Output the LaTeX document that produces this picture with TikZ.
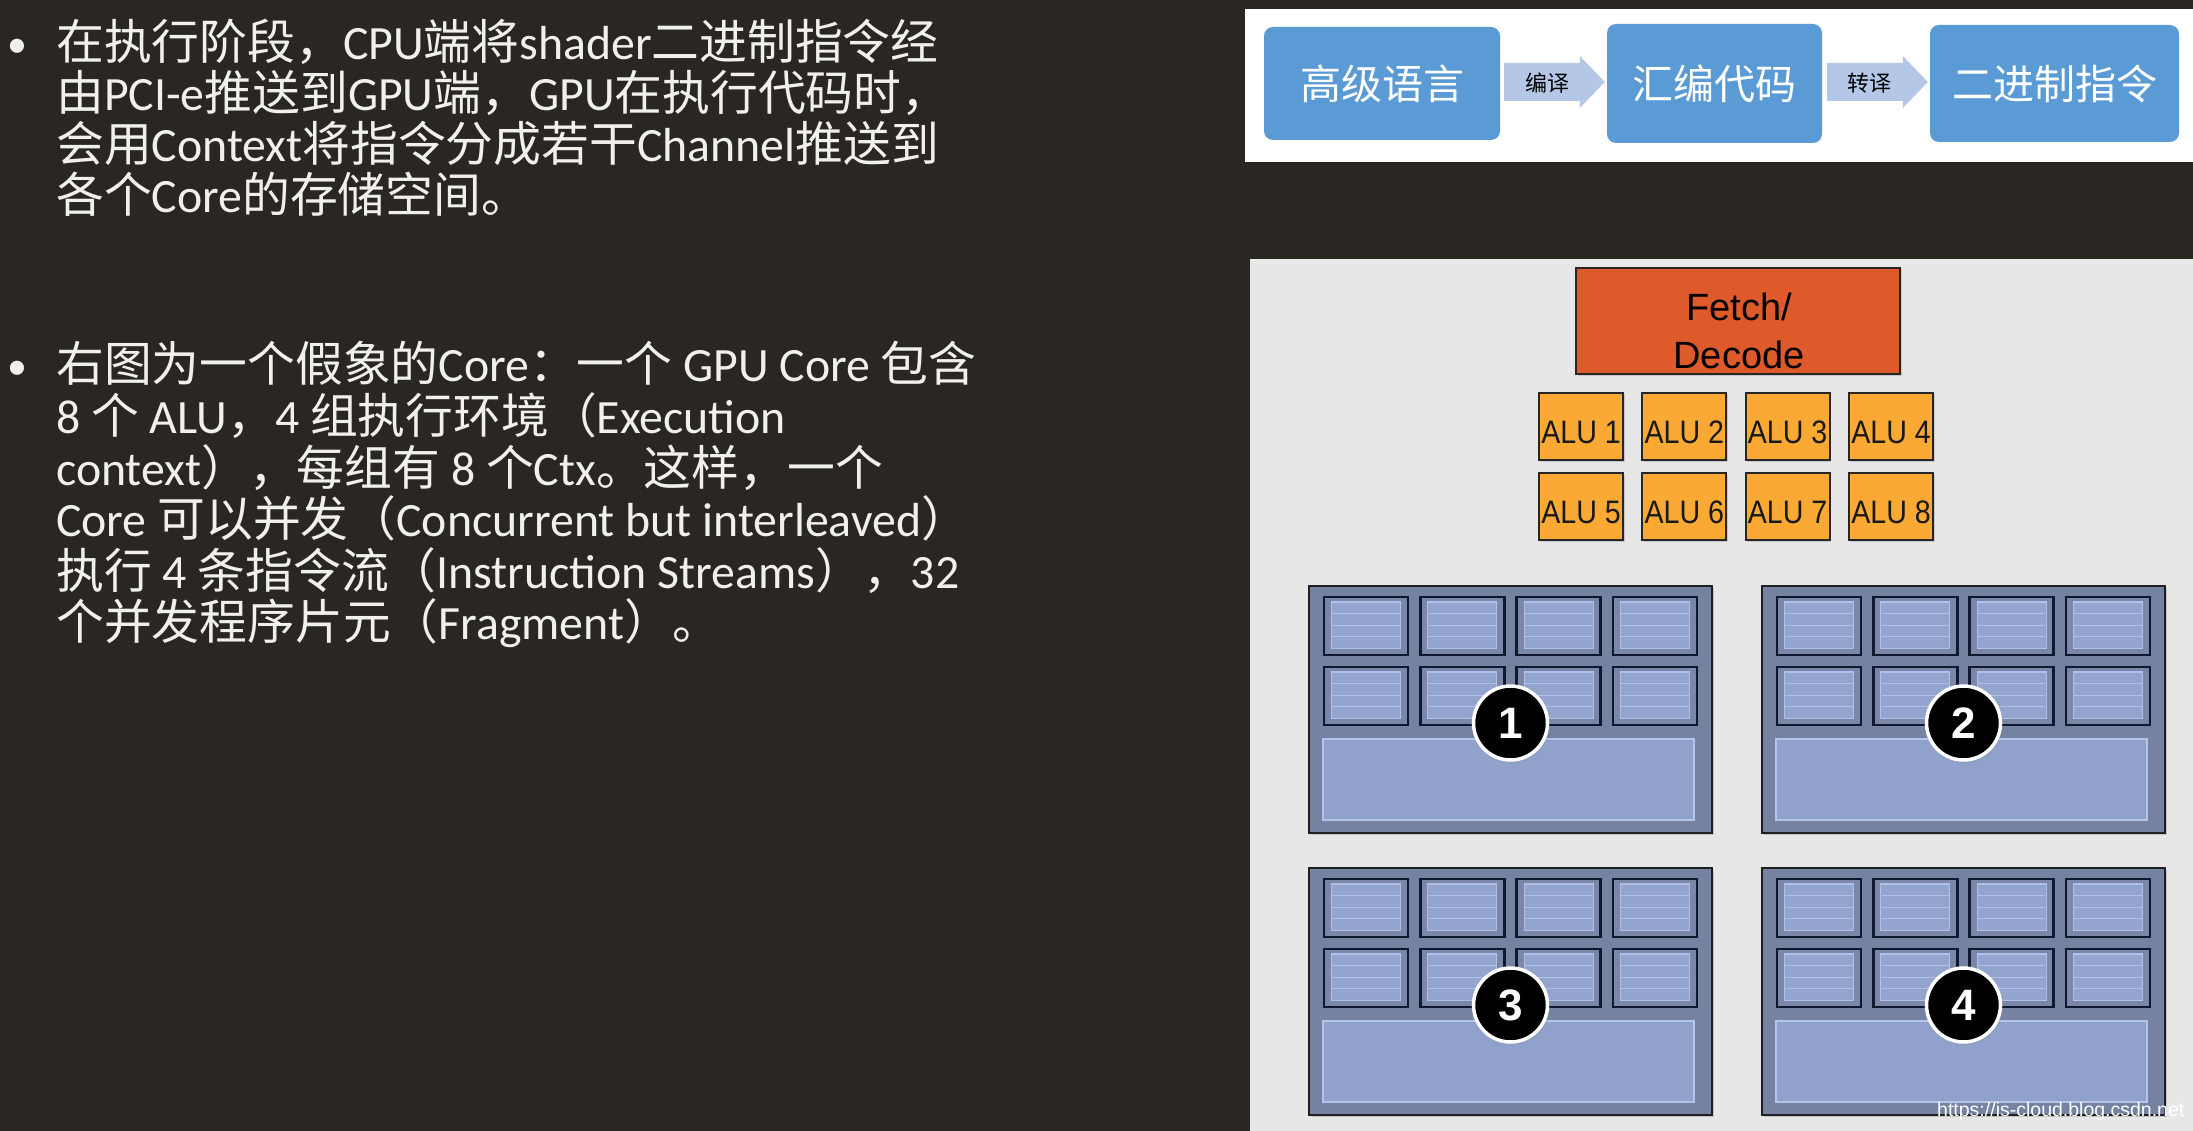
\documentclass[tikz,border=0pt]{standalone}
\usepackage{fontspec}
\setmainfont{Carlito}
\newfontfamily\cjk{Noto Sans CJK SC}
\newfontfamily\arialf{Liberation Sans}
\newfontfamily\arialn[FakeStretch=0.88]{Liberation Sans}
\usetikzlibrary{calc,shadows}
\definecolor{bgdark}{RGB}{42,39,34}
\definecolor{txtc}{RGB}{240,240,238}
\definecolor{panelgray}{RGB}{231,231,231}
\definecolor{blueb}{RGB}{91,155,213}
\definecolor{arrowc}{RGB}{180,199,231}
\definecolor{fetchc}{RGB}{222,90,42}
\definecolor{aluc}{RGB}{250,170,52}
\definecolor{blockc}{RGB}{118,130,162}
\definecolor{cellc}{RGB}{122,135,168}
\definecolor{cellinc}{RGB}{147,164,206}
\definecolor{stripec}{RGB}{176,192,230}
\definecolor{bigc}{RGB}{144,162,204}
\definecolor{bigborder}{RGB}{180,196,234}
\definecolor{celldraw}{RGB}{16,24,48}
\tikzset{
  txt/.style={anchor=base west, inner sep=0, text=txtc, font=\fontsize{47.8}{52}\selectfont},
  bullettxt/.style={anchor=base west, inner sep=0, text=txtc, font=\fontsize{40}{40}\selectfont},
  bluebox/.style={rectangle, rounded corners=9pt, fill=blueb, draw=none, text=white, inner sep=0,
    font=\cjk\fontsize{41}{41}\selectfont},
  flowarrow/.style={fill=arrowc, draw=none},
  arrlabel/.style={inner sep=0, text=black, font=\cjk\fontsize{22}{22}\selectfont},
  fetchbox/.style={rectangle, fill=fetchc, draw=black!85, line width=2.5pt, minimum width=324pt,
    minimum height=106pt, inner sep=0, drop shadow={shadow xshift=2pt,shadow yshift=-2pt,opacity=.3}},
  fetchtxt/.style={inner sep=0, align=center, text=black, font=\arialf\fontsize{38}{48}\selectfont},
  alubox/.style={rectangle, fill=aluc, draw=black!85, line width=2pt, minimum width=84pt,
    minimum height=67pt, inner sep=0, drop shadow={shadow xshift=1.5pt,shadow yshift=-1.5pt,opacity=.3}},
  alutxt/.style={anchor=base, inner sep=0, text=black!90, font=\arialn\fontsize{32.5}{32.5}\selectfont},
  blockouter/.style={rectangle, fill=blockc, draw=black!88, line width=2.5pt, minimum width=403pt,
    minimum height=247pt, inner sep=0, drop shadow={shadow xshift=2pt,shadow yshift=-2pt,opacity=.35}},
  cellout/.style={fill=cellc, draw=celldraw, line width=2.5pt},
  cellin/.style={fill=cellinc, draw=stripec, line width=1.2pt},
  stripe/.style={draw=stripec, line width=1.3pt},
  bigrect/.style={fill=bigc, draw=bigborder, line width=1.8pt},
  badge/.style={circle, fill=black, draw=white, line width=3.5pt, minimum size=74pt, inner sep=0,
    text=white, font=\arialf\bfseries\fontsize{44}{44}\selectfont,
    circular drop shadow={shadow xshift=1pt,shadow yshift=-1pt,shadow scale=1.06,opacity=.45}},
  wmark/.style={anchor=base west, inner sep=0, text=white, font=\arialf\fontsize{19.5}{19.5}\selectfont}
}
\newcommand\coreblk[4]{%
  \begin{scope}[shift={(#2,#3)}]
    \node[blockouter] (#1) at (201.5,123.5) {};
    \foreach \ci in {0,1,2,3} {
      \foreach \ri in {0,1} {
        \pgfmathsetmacro\cx{15+\ci*96.3}
        \pgfmathsetmacro\cy{11+\ri*70}
        \draw[cellout] (\cx,\cy) rectangle ++(84,58);
        \draw[cellin] (\cx+7.5,\cy+5) rectangle ++(69,46.5);
        \foreach \k in {1,2,3} { \draw[stripe] (\cx+8.2,\cy+5+\k*11.6) -- ++(67.6,0); }
      }
    }
    \draw[bigrect] (14,153) rectangle (385,234);
    \node[badge] (#1n) at (201.5,137) {#4};
  \end{scope}}
\newcommand\flowarr[2]{% #1 start coordinate, #2 tip coordinate
  \fill[flowarrow] ($(#1)+(0,-19)$) -- ($(#2)+(-25,-19)$) -- ($(#2)+(-25,-26)$) -- (#2)
    -- ($(#2)+(-25,26)$) -- ($(#2)+(-25,19)$) -- ($(#1)+(0,19)$) -- cycle;}
\begin{document}
\begin{tikzpicture}[x=1pt,y=-1pt]
\useasboundingbox (0,0) rectangle (2193,1131);
\fill[bgdark] (0,0) rectangle (2193,1131);

% ---------- left text ----------
\node[bullettxt] (bul1) at (7,58) {•};
\node[txt] (p1a) at (56,60) {{\cjk 在执行阶段，}CPU{\cjk 端将}shader{\cjk 二进制指令经}};
\node[txt] (p1b) at (56,111) {{\cjk 由}PCI-e{\cjk 推送到}GPU{\cjk 端，}GPU{\cjk 在执行代码时，}};
\node[txt] (p1c) at (56,162) {{\cjk 会用}Context{\cjk 将指令分成若干}Channel{\cjk 推送到}};
\node[txt] (p1d) at (56,213) {{\cjk 各个}Core{\cjk 的存储空间。}};

\node[bullettxt] (bul2) at (7,380) {•};
\node[txt] (p2a) at (56,382) {{\cjk 右图为一个假象的}Core{\cjk ：一个} GPU Core {\cjk 包含}};
\node[txt] (p2b) at (56,433.5) {8 {\cjk 个} ALU{\cjk ，}4 {\cjk 组执行环境（}Execution};
\node[txt] (p2c) at (56,485) {context{\cjk ），每组有} 8 {\cjk 个}Ctx{\cjk 。这样，一个}};
\node[txt] (p2d) at (56,536.5) {Core {\cjk 可以并发（}Concurrent but interleaved{\cjk ）}};
\node[txt] (p2e) at (56,588) {{\cjk 执行} 4 {\cjk 条指令流（}Instruction Streams{\cjk ），}32};
\node[txt] (p2f) at (56,639.5) {{\cjk 个并发程序片元（}Fragment{\cjk ）。}};

% ---------- top flow ----------
\fill[white] (1245,9) rectangle (2193,162);
\node[bluebox, minimum width=236pt, minimum height=113pt] (b1) at (1382,83.5) {高级语言};
\node[bluebox, minimum width=215pt, minimum height=119pt] (b2) at (1714.5,83.5) {汇编代码};
\node[bluebox, minimum width=249pt, minimum height=117pt] (b3) at (2054.5,83.5) {二进制指令};
\coordinate (a1s) at ($(b1.east)+(4,-1.5)$);
\coordinate (a1t) at ($(b2.west)+(-2,-1.5)$);
\coordinate (a2s) at ($(b2.east)+(5,-1.5)$);
\coordinate (a2t) at ($(b3.west)+(-2,-1.5)$);
\flowarr{a1s}{a1t}
\flowarr{a2s}{a2t}
\node[arrlabel] (l1) at (1547,83) {编译};
\node[arrlabel] (l2) at (1869,83) {转译};

% ---------- core diagram ----------
\fill[panelgray] (1250,259) rectangle (2193,1131);
\node[fetchbox] (fetch) at (1738,321) {};
\node[fetchtxt] (fetchl) at (1739,331) {Fetch/\\Decode};

\foreach \i/\xx/\yy in {1/1581/426.5, 2/1684.3/426.5, 3/1787.6/426.5, 4/1891/426.5,
                        5/1581/506.5, 6/1684.3/506.5, 7/1787.6/506.5, 8/1891/506.5} {
  \node[alubox] (alu\i) at (\xx,\yy) {};
  \node[alutxt] (alut\i) at ($(alu\i.center)+(0,16.5)$) {ALU \i};
}

\coreblk{ctx1}{1309}{586}{1}
\coreblk{ctx2}{1762}{586}{2}
\coreblk{ctx3}{1309}{868}{3}
\coreblk{ctx4}{1762}{868}{4}

\node[wmark] (wm) at (1937,1116) {https://is-cloud.blog.csdn.net};
\end{tikzpicture}
\end{document}
